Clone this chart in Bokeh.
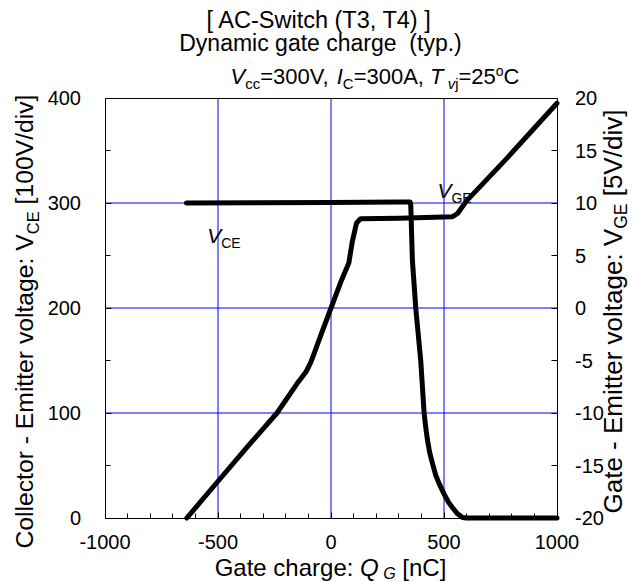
import math
import re
from bokeh.plotting import figure
from bokeh.models import Range1d, LinearAxis, FixedTicker, Label, PrintfTickFormatter
from bokeh.embed import file_html
from bokeh.resources import INLINE

# ---------------- data ----------------
q_vce = [-640, 0, 300, 350, 353, 360, 375, 397, 412, 420, 427, 437, 449, 463, 478, 500, 520, 537, 560, 582, 600, 1000]
v_ce = [300, 300.5, 301, 301, 298, 246, 200, 150, 100, 85, 74, 62, 52, 41, 33, 23, 15, 10, 4, 0.5, 0, 0]

q_vge = [-638, -500, -357, -239, -150, -111, -90, -74, -47, 0, 42, 79, 94, 113, 131, 300, 538, 560, 600, 780, 1000]
v_ge = [-20, -16.5, -12.9, -10, -7.2, -6.1, -5.2, -4.3, -2.7, 0, 2.4, 4.3, 6.3, 8.1, 8.5, 8.55, 8.7, 9.0, 10.2, 14.3, 19.5]

x_ticks = [-1000, -500, 0, 500, 1000]
vce_ticks = [0, 100, 200, 300, 400]
vge_ticks = [-20, -15, -10, -5, 0, 5, 10, 15, 20]
x_grid = [-500, 0, 500]
y_grid = [100, 200, 300]

title1 = "[ AC-Switch (T3, T4) ]"
title2 = "Dynamic gate charge  (typ.)"

FONT = "Liberation Sans"
MID = 0.3465  # baseline offset of a vertically centred text box (em)

W = {' ': 278, '-': 333, ':': 278, '[': 278, ']': 278, '/': 278, '(': 333, ')': 333,
     '.': 278, ',': 278, '=': 584, 'A': 667, 'C': 722, 'D': 722, 'E': 667, 'G': 778,
     'I': 278, 'Q': 778, 'S': 667, 'T': 611, 'V': 667, 'a': 556, 'c': 500, 'd': 556,
     'e': 556, 'g': 556, 'h': 556, 'i': 222, 'j': 222, 'l': 222, 'm': 833, 'n': 556,
     'o': 556, 'p': 556, 'r': 333, 's': 500, 't': 278, 'v': 500, 'w': 722, 'y': 500}
for dch in "0123456789":
    W[dch] = 556


def tw(s, size):
    return sum(W.get(c, 556) for c in s) / 1000.0 * size


# ---------------- geometry: the frame is the whole canvas, the plot box sits inside ----------------
CW, CH = 636, 582
BOX_L, BOX_R, BOX_T, BOX_B = 104.5, 556.5, 97.5, 517.5
x0, x1 = x_ticks[0], x_ticks[-1]
y0, y1 = vce_ticks[0], vce_ticks[-1]
g0, g1 = vge_ticks[0], vge_ticks[-1]
kx = (x1 - x0) / (BOX_R - BOX_L)
ky = (y1 - y0) / (BOX_B - BOX_T)
kg = (g1 - g0) / (BOX_B - BOX_T)

p = figure(width=CW, height=CH,
           x_range=Range1d(x0 - BOX_L * kx, x1 + (CW - BOX_R) * kx),
           y_range=Range1d(y0 - (CH - BOX_B) * ky, y1 + BOX_T * ky),
           output_backend="svg", toolbar_location=None, min_border=0,
           x_axis_type=None, y_axis_type=None)
p.extra_y_ranges = {"vge": Range1d(g0 - (CH - BOX_B) * kg, g1 + BOX_T * kg)}
p.background_fill_color = "white"
p.border_fill_color = "white"
p.outline_line_color = None
p.grid.visible = False

# grid lines (blue), drawn from the grid value lists
p.segment(x0=x_grid, y0=[y0] * len(x_grid), x1=x_grid, y1=[y1] * len(x_grid),
          line_color="#0000ff", line_width=1)
p.segment(x0=[x0] * len(y_grid), y0=y_grid, x1=[x1] * len(y_grid), y1=y_grid,
          line_color="#0000ff", line_width=1)

bax = LinearAxis(fixed_location=y0, bounds=(x0, x1),
                 ticker=FixedTicker(ticks=x_ticks, minor_ticks=list(range(x0, x1 + 1, 100))))
lax = LinearAxis(fixed_location=x0, bounds=(y0, y1),
                 ticker=FixedTicker(ticks=vce_ticks, minor_ticks=list(range(y0, y1 + 1, 50))))
rax = LinearAxis(fixed_location=x1, bounds=(g0, g1), y_range_name="vge",
                 ticker=FixedTicker(ticks=vge_ticks, minor_ticks=[]))
tax = LinearAxis(fixed_location=y1, bounds=(x0, x1), ticker=FixedTicker(ticks=[], minor_ticks=[]))
p.add_layout(bax, "below")
p.add_layout(lax, "left")
p.add_layout(rax, "right")
p.add_layout(tax, "above")

for ax in [bax, lax, rax, tax]:
    ax.formatter = PrintfTickFormatter(format="%d")
    ax.axis_line_color = "black"
    ax.axis_line_width = 1
    ax.major_tick_line_color = "black"
    ax.minor_tick_line_color = "black"
    ax.major_tick_in = 6
    ax.major_tick_out = 0
    ax.minor_tick_in = 5
    ax.minor_tick_out = 0
    ax.major_label_text_font = FONT
    ax.major_label_text_font_size = "20px"
    ax.major_label_text_color = "black"
bax.major_label_standoff = 17
lax.major_label_standoff = 24
rax.major_label_standoff = 18

p.line(q_vce, v_ce, line_width=5, line_color="black", line_join="round", line_cap="round")
p.line(q_vge, v_ge, line_width=5, line_color="black", line_join="round", line_cap="round",
       y_range_name="vge")

# curve labels (data coordinates)
for base, sub, qx, vy in [("V", "CE", -548, 262), ("V", "GE", 471, 305)]:
    p.add_layout(Label(x=qx, y=vy, y_offset=MID * 21, text=base, text_font=FONT,
                       text_font_size="21px", text_font_style="italic",
                       text_baseline="alphabetic", text_color="black"))
    p.add_layout(Label(x=qx, y=vy, x_offset=tw(base, 21), y_offset=MID * 14 - 5, text=sub,
                       text_font=FONT, text_font_size="14px", text_baseline="alphabetic",
                       text_color="black"))


def run(pieces, X, Y, rotate=False, align="left"):
    """pieces: (text, size, italic, rise). X,Y canvas coords of the baseline start."""
    lx, ly = X, CH - Y
    total = sum(tw(t, s) for t, s, it, r in pieces)
    if rotate:
        pos = ly if align == "left" else ly - total / 2
    else:
        pos = lx if align == "left" else (lx - total / 2 if align == "center" else lx - total)
    for t, s, it, r in pieces:
        for m in re.finditer(r"\S+(?: \S+)*", t):
            along = pos + tw(t[:m.start()], s)
            kw = dict(text=m.group(), text_font=FONT, text_font_size=f"{s}px",
                      text_font_style="italic" if it else "normal", x_units="screen",
                      y_units="screen", text_align="left", text_baseline="alphabetic",
                      text_color="black")
            if rotate:
                p.add_layout(Label(x=lx - r - MID * s, y=along, angle=math.pi / 2, **kw))
            else:
                p.add_layout(Label(x=along, y=ly + r + MID * s, **kw))
        pos += tw(t, s)


run([(title1, 23.5, False, 0)], 319, 28, align="center")
run([(title2, 23, False, 0)], 320, 50, align="center")
run([("V", 22, True, 0), ("cc", 15, False, -4), ("=300V, ", 22, False, 0),
     ("I", 22, True, 0), ("C", 15, False, -4), ("=300A, ", 22, False, 0),
     ("T", 22, True, 0), (" v", 15, True, -4), ("j", 15, False, -4),
     ("=25", 22, False, 0), ("o", 14, False, 9), ("C", 22, False, 0)],
    519, 84, align="right")

run([("Gate charge: ", 24, False, 0), ("Q", 24, True, 0), (" G", 16, True, -3.5),
     (" [nC]", 24, False, 0)], 330, 575, align="center")
run([("Collector - Emitter voltage: V", 24.7, False, 0), ("CE", 16.5, False, -5),
     (" [100V/div]", 24.7, False, 0)], 33, 548, rotate=True)
run([("Gate - Emitter voltage: V", 26, False, 0), ("GE", 17.5, False, -5),
     (" [5V/div]", 26, False, 0)], 622, 513, rotate=True)

open("out.html", "w").write(file_html(p, INLINE))
